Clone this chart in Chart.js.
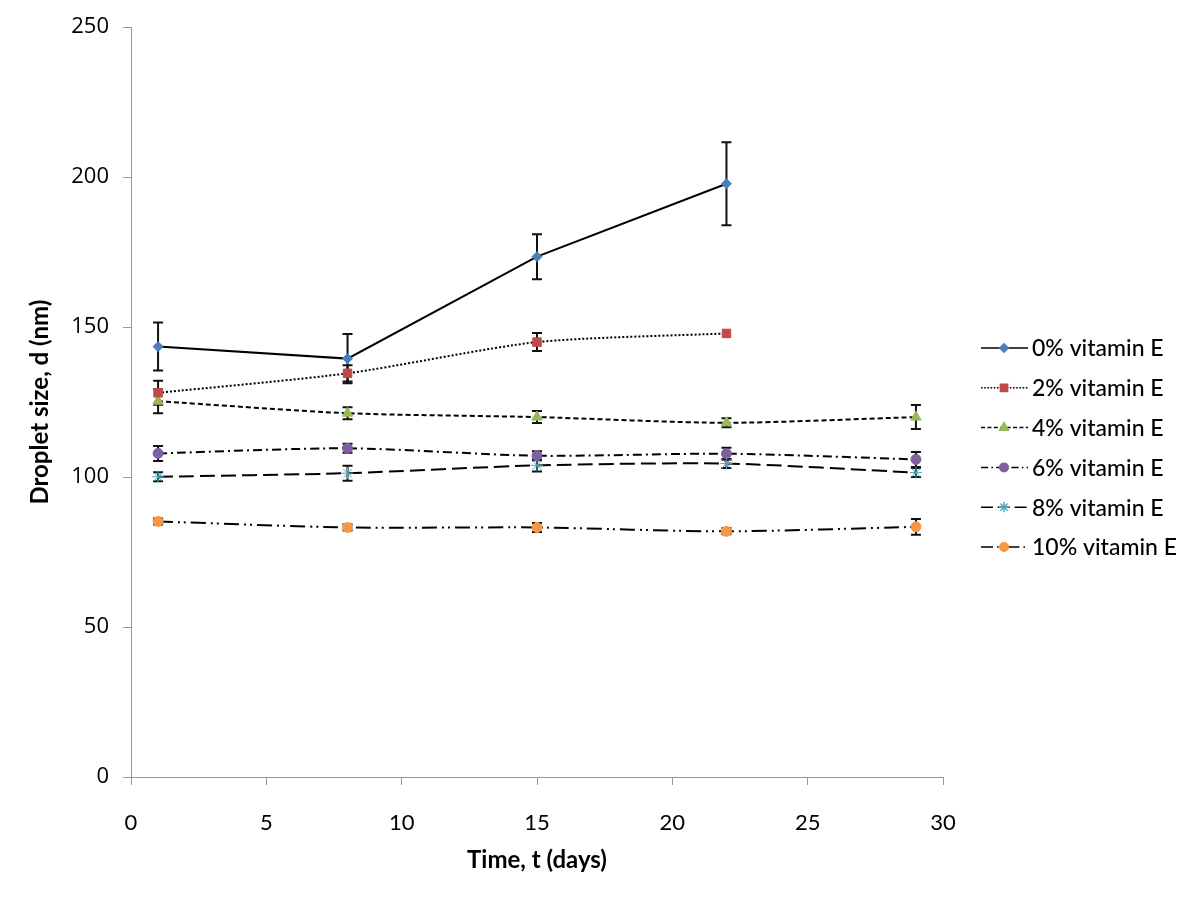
<!DOCTYPE html>
<html><head><meta charset="utf-8">
<script src="https://cdn.jsdelivr.net/npm/chart.js@4/dist/chart.umd.min.js"></script>
<style>html,body{margin:0;padding:0;background:#fff}#wrap{width:1200px;height:901px}</style>
</head><body><div id="wrap"><canvas id="c" width="1200" height="901"></canvas></div>
<script>
const days = [1, 8, 15, 22, 29];
const seriesNames = ['0% vitamin E','2% vitamin E','4% vitamin E','6% vitamin E','8% vitamin E','10% vitamin E'];
const v0 = [143.5, 139.5, 173.5, 197.8];
const v2 = [128.1, 134.6, 145.0, 147.9];
const v4 = [125.3, 121.3, 120.0, 118.1, 120.0];
const v6 = [107.9, 109.6, 107.1, 107.8, 105.9];
const v8 = [100.1, 101.3, 103.9, 104.5, 101.5];
const v10 = [85.2, 83.2, 83.2, 81.9, 83.4];
const e0 = [8.0, 8.2, 7.5, 13.8];
const e2 = [4.0, 2.7, 3.0, 0];
const e4 = [4.0, 2.0, 2.0, 1.5, 4.0];
const e6 = [2.5, 1.5, 1.5, 2.0, 2.5];
const e8 = [1.5, 2.5, 2.0, 1.5, 1.5];
const e10 = [1.0, 1.0, 1.5, 1.0, 2.6];
const xTicks = [0, 5, 10, 15, 20, 25, 30];
const yTicks = [0, 50, 100, 150, 200, 250];

const values = [v0, v2, v4, v6, v8, v10];
const errors = [e0, e2, e4, e6, e8, e10];
const colors = ['#4a7ebb','#be4b48','#98b954','#7d60a0','#4bacc6','#f79646'];
const shapes = ['rectRot','rect','triangle','circle','star','circle'];
const radii = [5, 6, 6, 5, 6, 5];
const dashes = [[], [2,2], [5,3], [9,4,2,4], [15,6], [15,5,2,4,2,5]];
const tensions = [0, 0.25, 0.25, 0.25, 0.25, 0.25];
const FONT = 'Lato, "Open Sans", sans-serif';

const datasets = values.map((vals, i) => ({
  label: seriesNames[i],
  data: vals.map((v, j) => ({x: days[j], y: v})),
  borderColor: '#000', borderWidth: 2, borderDash: dashes[i],
  tension: tensions[i], cubicInterpolationMode: 'default',
  pointStyle: shapes[i], pointRadius: radii[i], pointBackgroundColor: colors[i],
  pointBorderColor: colors[i], pointBorderWidth: 1, fill: false,
  errs: errors[i]
}));

const errorBars = {
  id: 'errorBars',
  beforeDatasetsDraw(chart) {
    const ctx = chart.ctx, xs = chart.scales.x, ys = chart.scales.y;
    ctx.save();
    ctx.strokeStyle = '#111'; ctx.lineWidth = 2; ctx.setLineDash([]);
    chart.data.datasets.forEach(ds => {
      ds.data.forEach((p, j) => {
        const e = ds.errs[j]; if (!e) return;
        const px = xs.getPixelForValue(p.x);
        const t = ys.getPixelForValue(p.y + e), b = ys.getPixelForValue(p.y - e);
        ctx.beginPath();
        ctx.moveTo(px, t); ctx.lineTo(px, b);
        ctx.moveTo(px - 5, t); ctx.lineTo(px + 5, t);
        ctx.moveTo(px - 5, b); ctx.lineTo(px + 5, b);
        ctx.stroke();
      });
    });
    ctx.restore();
  }
};

const customLegend = {
  id: 'customLegend',
  afterDraw(chart) {
    const ctx = chart.ctx;
    ctx.save();
    chart.data.datasets.forEach((ds, i) => {
      const y = 348 + i * 39.8;
      ctx.strokeStyle = '#000'; ctx.lineWidth = 1.5; ctx.setLineDash(ds.borderDash.map(d => d*0.8));
      ctx.beginPath(); ctx.moveTo(981, y); ctx.lineTo(1028, y); ctx.stroke();
      ctx.setLineDash([]);
      ctx.fillStyle = ds.pointBackgroundColor; ctx.strokeStyle = ds.pointBorderColor;
      Chart.helpers.drawPoint(ctx, {pointStyle: ds.pointStyle, radius: ds.pointRadius * 0.85, borderWidth: 1}, 1004, y);
      ctx.fillStyle = '#000'; ctx.font = '500 23px ' + FONT;
      ctx.textBaseline = 'middle'; ctx.textAlign = 'left';
      ctx.fillText(ds.label, 1032, y + 1);
    });
    ctx.restore();
  }
};

new Chart(document.getElementById('c'), {
  type: 'line',
  data: { datasets },
  plugins: [errorBars, customLegend],
  options: {
    responsive: false, animation: false,
    layout: { padding: { top: 23, right: 257, left: 0, bottom: 0 } },
    plugins: { legend: { display: false }, tooltip: { enabled: false } },
    scales: {
      x: {
        type: 'linear', min: 0, max: 30,
        afterBuildTicks: s => { s.ticks = xTicks.map(v => ({value: v})); },
        afterFit: s => { s.height = 124; },
        grid: { drawOnChartArea: false, drawTicks: true, tickLength: 8, color: '#999' },
        border: { color: '#999', width: 1 },
        ticks: { color: '#000', font: { size: 22, family: FONT }, padding: 25, maxRotation: 0 },
        title: { display: true, text: 'Time, t (days)', color: '#000', font: { size: 24, weight: 'bold', family: FONT }, padding: { top: 0, bottom: 26 } }
      },
      y: {
        min: 0, max: 250,
        afterBuildTicks: s => { s.ticks = yTicks.map(v => ({value: v})); },
        afterFit: s => { s.width = 131; },
        grid: { drawOnChartArea: false, drawTicks: true, tickLength: 8, color: '#999' },
        border: { color: '#999', width: 1 },
        ticks: { color: '#000', font: { size: 22, family: '"Open Sans", sans-serif' }, padding: 14 },
        title: { display: true, text: 'Droplet size, d (nm)', color: '#000', font: { size: 24, weight: 'bold', family: FONT }, padding: { top: 26, bottom: 0 } }
      }
    }
  }
});
</script></body></html>
